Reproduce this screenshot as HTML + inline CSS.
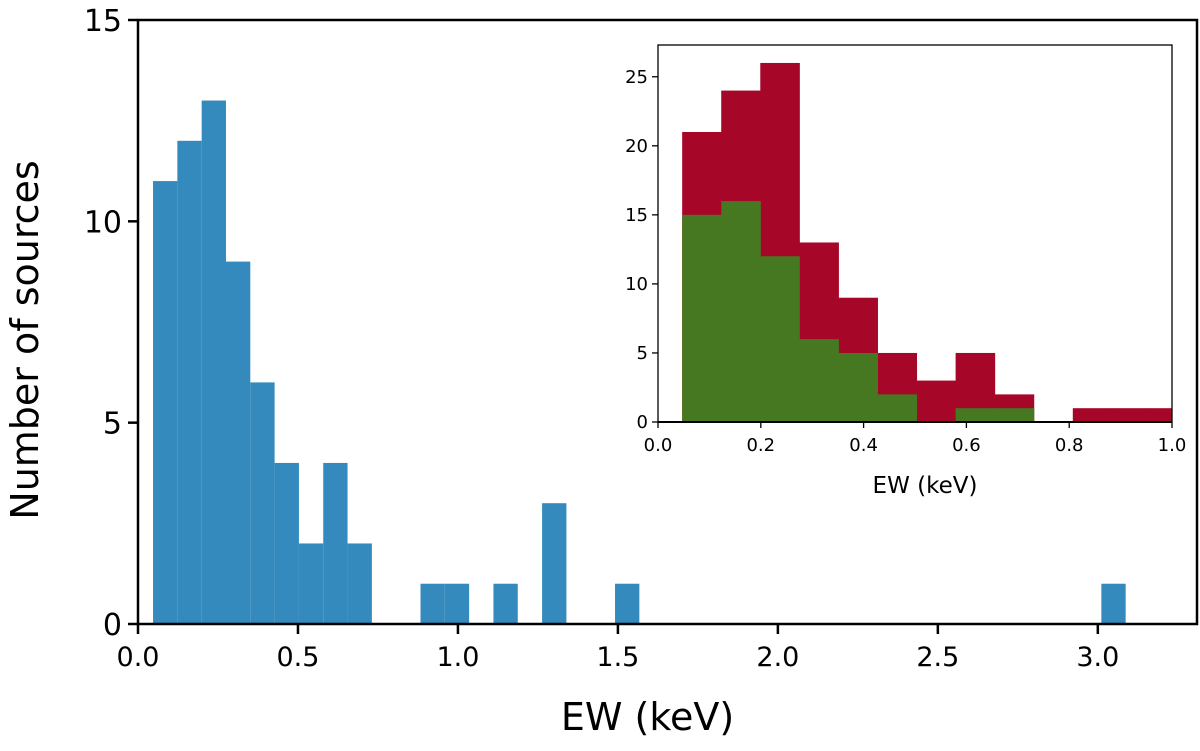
<!DOCTYPE html>
<html><head><meta charset="utf-8"><style>
html,body{margin:0;padding:0;background:#fff;}
svg text{font-family:"DejaVu Sans","Liberation Sans",sans-serif;fill:#000;}
</style></head><body>
<svg id="chart" width="1200" height="746" viewBox="0 0 1200 746" xmlns="http://www.w3.org/2000/svg">
<g id="main"></g><g id="inset"></g>
</svg>
<script>
const binStart = 0.047;
const binWidth = 0.0760;
const mainCounts = [11,12,13,9,6,4,2,4,2,0,0,1,1,0,1,0,3,0,0,1,0,0,0,0,0,0,0,0,0,0,0,0,0,0,0,0,0,0,0,1];
const mainXTicks = [0,0.5,1.0,1.5,2.0,2.5,3.0];
const mainXTickLabels = ["0.0","0.5","1.0","1.5","2.0","2.5","3.0"];
const mainYTicks = [0,5,10,15];
const insetRed = [21,24,26,13,9,5,3,5,2,0,1,1,1,2];
const insetGreen = [15,16,12,6,5,2,0,1,1];
const insetXTicks = [0,0.2,0.4,0.6,0.8,1.0];
const insetXTickLabels = ["0.0","0.2","0.4","0.6","0.8","1.0"];
const insetYTicks = [0,5,10,15,20,25];

const NS="http://www.w3.org/2000/svg";
function mk(parent,tag,attrs){const e=document.createElementNS(NS,tag);for(const k in attrs)e.setAttribute(k,attrs[k]);parent.appendChild(e);return e;}

const M={L:138,R:1197,T:20,B:624,xmin:0,xmax:3.31,ymin:0,ymax:15};
const mx=v=>M.L+(v-M.xmin)/(M.xmax-M.xmin)*(M.R-M.L);
const my=v=>M.B-(v-M.ymin)/(M.ymax-M.ymin)*(M.B-M.T);
const gm=document.getElementById('main');
mainCounts.forEach((c,i)=>{
  if(c<=0)return;
  const x0=mx(binStart+i*binWidth),x1=mx(binStart+(i+1)*binWidth);
  const r=mk(gm,'rect',{x:x0,y:my(c),width:x1-x0,height:my(0)-my(c),fill:'#348abd'});
  
  
});
const mframe=mk(gm,'rect',{x:M.L,y:M.T,width:M.R-M.L,height:M.B-M.T,fill:'none',stroke:'#000','stroke-width':2.5});


mainXTicks.forEach((t,i)=>{
  mk(gm,'line',{x1:mx(t),x2:mx(t),y1:M.B,y2:M.B+10,stroke:'#000','stroke-width':2.5});
  const tx=mk(gm,'text',{x:mx(t),y:M.B+42,'font-size':27,'text-anchor':'middle'});
  tx.textContent=mainXTickLabels[i];
  
  
});
mainYTicks.forEach(t=>{
  mk(gm,'line',{x1:M.L-10,x2:M.L,y1:my(t),y2:my(t),stroke:'#000','stroke-width':2.5});
  const tx=mk(gm,'text',{x:M.L-16,y:my(t)+11,'font-size':30,'text-anchor':'end'});
  tx.textContent=String(t);
  
  
});
const xt=mk(gm,'text',{x:(M.L+M.R)/2-20,y:730,'font-size':38,'text-anchor':'middle'});
xt.textContent='EW (keV)';


const yt=mk(gm,'text',{x:0,y:0,'font-size':38,'text-anchor':'middle',transform:'translate(38,340) rotate(-90)'});
yt.textContent='Number of sources';



const I={L:658,R:1172,T:45,B:422,xmin:0,xmax:1.0,ymin:0,ymax:27.3};
const ix=v=>I.L+(v-I.xmin)/(I.xmax-I.xmin)*(I.R-I.L);
const iy=v=>I.B-(v-I.ymin)/(I.ymax-I.ymin)*(I.B-I.T);
const gi=document.getElementById('inset');
mk(gi,'rect',{x:I.L,y:I.T,width:I.R-I.L,height:I.B-I.T,fill:'#fff'});
function drawInset(counts,color,name){
  counts.forEach((c,i)=>{
    if(c<=0)return;
    const x0=ix(binStart+i*binWidth),x1=Math.min(ix(binStart+(i+1)*binWidth),I.R);
    const r=mk(gi,'rect',{x:x0,y:iy(c),width:x1-x0+0.5,height:iy(0)-iy(c),fill:color});
    
    
  });
}
drawInset(insetRed,'#a60628','inset-bar-all');
drawInset(insetGreen,'#467821','inset-bar-subset');
const iframe=mk(gi,'rect',{x:I.L,y:I.T,width:I.R-I.L,height:I.B-I.T,fill:'none',stroke:'#000','stroke-width':1.3});


mk(gi,'line',{x1:I.L,x2:I.R,y1:I.B,y2:I.B,stroke:'#000','stroke-width':2});
insetXTicks.forEach((t,i)=>{
  mk(gi,'line',{x1:ix(t),x2:ix(t),y1:I.B,y2:I.B+6,stroke:'#000','stroke-width':1.3});
  const tx=mk(gi,'text',{x:ix(t),y:I.B+29,'font-size':18,'text-anchor':'middle'});
  tx.textContent=insetXTickLabels[i];
  
  
});
insetYTicks.forEach(t=>{
  mk(gi,'line',{x1:I.L-6,x2:I.L,y1:iy(t),y2:iy(t),stroke:'#000','stroke-width':1.3});
  const tx=mk(gi,'text',{x:I.L-10,y:iy(t)+6,'font-size':18,'text-anchor':'end'});
  tx.textContent=String(t);
  
  
});
const ixt=mk(gi,'text',{x:(I.L+I.R)/2+10,y:493,'font-size':23,'text-anchor':'middle'});
ixt.textContent='EW (keV)';


</script>
</body></html>
